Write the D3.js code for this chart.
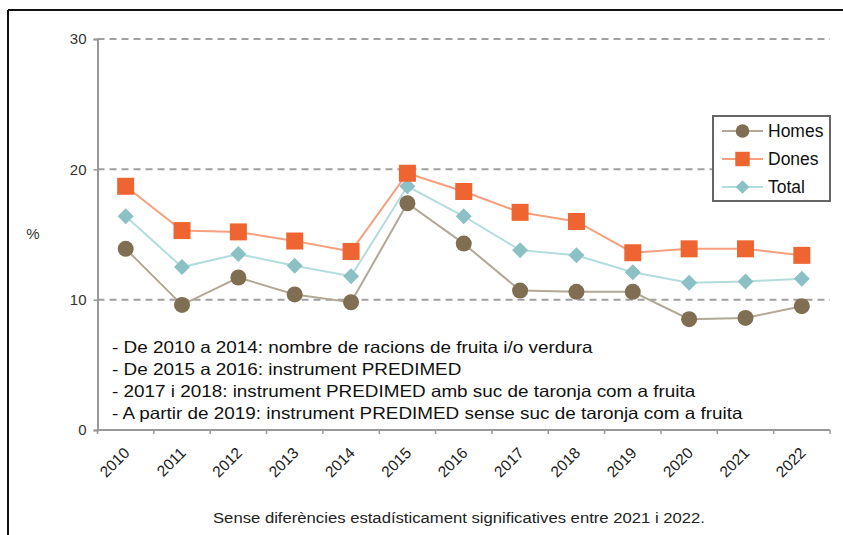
<!DOCTYPE html>
<html><head><meta charset="utf-8">
<script src="https://cdn.jsdelivr.net/npm/d3@7"></script>
<style>
html,body{margin:0;padding:0;background:#fff;}
svg{display:block;font-family:"Liberation Sans",Arial,sans-serif;}
</style></head>
<body>
<svg id="chart" width="843" height="535"></svg>
<script>
const years = ["2010","2011","2012","2013","2014","2015","2016","2017","2018","2019","2020","2021","2022"];
const homes = [13.9, 9.6, 11.7, 10.4, 9.8, 17.4, 14.3, 10.7, 10.6, 10.6, 8.5, 8.6, 9.5];
const dones = [18.7, 15.3, 15.2, 14.5, 13.7, 19.7, 18.3, 16.7, 16.0, 13.6, 13.9, 13.9, 13.4];
const total = [16.4, 12.5, 13.5, 12.6, 11.8, 18.7, 16.4, 13.8, 13.4, 12.1, 11.3, 11.4, 11.6];
const yTicks = [0, 10, 20, 30];
const seriesNames = ["Homes", "Dones", "Total"];
const notes = [
  "- De 2010 a 2014: nombre de racions de fruita i/o verdura",
  "- De 2015 a 2016: instrument PREDIMED",
  "- 2017 i 2018: instrument PREDIMED amb suc de taronja com a fruita",
  "- A partir de 2019: instrument PREDIMED sense suc de taronja com a fruita"
];
const footnote = "Sense diferències estadísticament  significatives entre 2021 i 2022.";

const svg = d3.select("#chart");
// outer frame (top and left)
svg.append("line").attr("x1",8).attr("x2",843).attr("y1",10).attr("y2",10).attr("stroke","#111").attr("stroke-width",2);
svg.append("line").attr("x1",8).attr("x2",8).attr("y1",10).attr("y2",535).attr("stroke","#111").attr("stroke-width",2);

const x0 = 97.5, x1 = 830, yTop = 39, yBot = 430;
const xBand = d3.scaleBand().domain(years).range([x0, x1]).padding(0);
const x = d => xBand(d) + xBand.bandwidth()/2;
const y = d3.scaleLinear().domain([0, 30]).range([yBot, yTop]);

// gridlines
svg.append("g").selectAll("line").data(yTicks.filter(t => t > 0)).join("line")
  .attr("x1", x0).attr("x2", x1).attr("y1", d => y(d)).attr("y2", d => y(d))
  .attr("stroke", "#a0a0a0").attr("stroke-width", 2).attr("stroke-dasharray", "7,5");

// y axis
const yAxis = svg.append("g").attr("transform", `translate(${x0},0)`)
  .call(d3.axisLeft(y).tickValues(yTicks).tickSize(4).tickPadding(7).tickFormat(d3.format("d")));
yAxis.select(".domain").attr("stroke", "#999").attr("stroke-width", 2);
yAxis.selectAll(".tick line").attr("stroke", "#999").attr("stroke-width", 1.5);
yAxis.selectAll(".tick text").attr("font-size", 15).attr("fill", "#333").attr("font-family", "Liberation Sans, Arial, sans-serif");

// x axis with ticks at category boundaries
const xAxisG = svg.append("g").attr("transform", `translate(0,${yBot})`);
xAxisG.append("line").attr("x1", x0).attr("x2", x1).attr("stroke", "#999").attr("stroke-width", 2);
const bounds = years.map(d => xBand(d)).concat([x1]);
xAxisG.selectAll("line.tk").data(bounds).join("line").attr("class","tk")
  .attr("x1", d => d).attr("x2", d => d).attr("y1", 0).attr("y2", 4)
  .attr("stroke", "#999").attr("stroke-width", 1.5);
xAxisG.selectAll("text").data(years).join("text")
  .attr("transform", d => `translate(${x(d)+1},${20}) rotate(-45)`)
  .attr("text-anchor", "end").attr("dy", "0.35em")
  .attr("font-size", 15.5).attr("fill", "#222")
  .text(d => d);

// % label
svg.append("text").attr("x", 33).attr("y", 239).attr("text-anchor","middle")
  .attr("font-size", 15).attr("fill","#333").text("%");

const styles = {
  Homes: {data: homes, line: "#b3a896", fill: "#7f6e51", shape: "circle"},
  Dones: {data: dones, line: "#f5a07e", fill: "#ee6532", shape: "square"},
  Total: {data: total, line: "#b3dcde", fill: "#8bc1c4", shape: "diamond"}
};
function marker(g, shape, fill) {
  if (shape === "circle") g.append("circle").attr("r", 8).attr("fill", fill);
  else if (shape === "square") g.append("rect").attr("x",-8.5).attr("y",-8.5).attr("width",17).attr("height",17).attr("fill", fill);
  else g.append("path").attr("d", "M0,-8L8,0L0,8L-8,0Z").attr("fill", fill);
}
const line = d3.line().x((d,i) => x(years[i])).y(d => y(d));
["Homes","Total","Dones"].forEach(name => {
  const s = styles[name];
  svg.append("path").datum(s.data).attr("d", line).attr("fill","none")
    .attr("stroke", s.line).attr("stroke-width", 2);
});
["Homes","Total","Dones"].forEach(name => {
  const s = styles[name];
  s.data.forEach((v,i) => {
    const g = svg.append("g").attr("transform", `translate(${x(years[i])},${y(v)})`);
    marker(g, s.shape, s.fill);
  });
});

// legend
const lg = svg.append("g");
lg.append("rect").attr("x", 713).attr("y", 116).attr("width", 117).attr("height", 85)
  .attr("fill", "#fff").attr("stroke", "#666").attr("stroke-width", 2);
seriesNames.forEach((name, i) => {
  const s = styles[name];
  const cy = 131 + i*28;
  lg.append("line").attr("x1", 722).attr("x2", 763).attr("y1", cy).attr("y2", cy)
    .attr("stroke", s.line).attr("stroke-width", 2);
  const g = lg.append("g").attr("transform", `translate(742.5,${cy}) scale(0.85)`);
  marker(g, s.shape, s.fill);
  lg.append("text").attr("x", 768).attr("y", cy).attr("dy", "0.36em")
    .attr("font-size", 17.5).attr("fill", "#111").text(name);
});

// notes (horizontally stretched like the reference)
svg.append("g").attr("transform", "translate(112,0) scale(1.145,1)")
  .selectAll("text").data(notes).join("text")
  .attr("x", 0).attr("y", (d,i) => 353 + i*22)
  .attr("font-size", 16.5).attr("fill", "#111").text(d => d);

// footnote
svg.append("text").attr("x", 459).attr("y", 523).attr("text-anchor","middle")
  .attr("font-size", 14).attr("fill","#222").attr("textLength", 492).attr("lengthAdjust","spacingAndGlyphs")
  .text(footnote);
</script>
</body></html>
